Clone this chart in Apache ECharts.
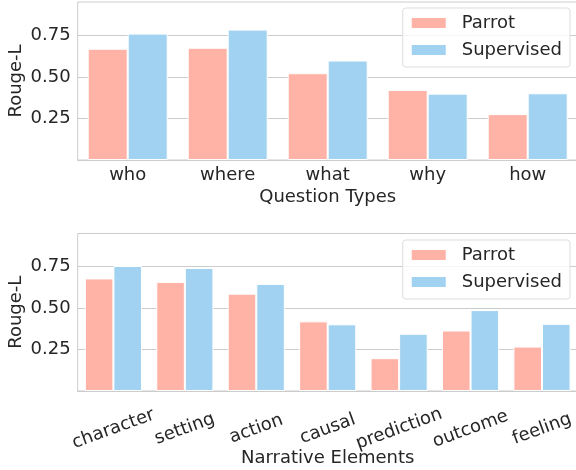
<!DOCTYPE html>
<html>
<head>
<meta charset="utf-8">
<script src="https://cdn.jsdelivr.net/npm/echarts@6/dist/echarts.min.js"></script>
<style>html,body{margin:0;padding:0;background:#fff}#c{width:576px;height:470px}</style>
</head>
<body>
<div id="c"></div>
<script>
const qCategories = ['who', 'where', 'what', 'why', 'how'];
const qParrot = [0.669, 0.675, 0.522, 0.421, 0.276];
const qSupervised = [0.760, 0.784, 0.598, 0.399, 0.401];

const nCategories = ['character', 'setting', 'action', 'causal', 'prediction', 'outcome', 'feeling'];
const nParrot = [0.679, 0.658, 0.587, 0.420, 0.198, 0.365, 0.268];
const nSupervised = [0.754, 0.742, 0.646, 0.402, 0.345, 0.488, 0.405];

const seriesNames = ['Parrot', 'Supervised'];
const yTickInterval = 0.25;

const FONT = 'DejaVu Sans';
const TXT = '#262626';
const PARROT = '#FFB3A7';
const SUPER = '#A1D2F1';
const SPINE = '#cccccc';

const chart = echarts.init(document.getElementById('c'), null, {renderer: 'canvas'});

function yAxis(idx) {
  return {
    type: 'value', gridIndex: idx, min: 0, max: 0.95, interval: yTickInterval,
    name: 'Rouge-L', nameLocation: 'middle', nameGap: 52, nameRotate: 90, nameMoveOverlap: false,
    nameTextStyle: {fontFamily: FONT, fontSize: 18, color: TXT},
    axisLine: {show: false}, axisTick: {show: false},
    axisLabel: {fontFamily: FONT, fontSize: 18, color: TXT, margin: 7, showMaxLabel: false,
      formatter: v => (v === 0 || v > 0.9 ? '' : v.toFixed(2))},
    splitLine: {show: true, showMaxLine: false, lineStyle: {color: SPINE, width: 1}}
  };
}
function legend(top) {
  return {
    data: seriesNames, orient: 'vertical', right: 6, top: top,
    itemWidth: 36, itemHeight: 12, itemGap: 9,
    icon: 'rect',
    padding: [6, 8, 8, 7],
    backgroundColor: 'rgba(255,255,255,0.8)', borderColor: '#dddddd', borderWidth: 1, borderRadius: 3,
    formatter: name => '{g|}' + name,
    textStyle: {fontFamily: FONT, fontSize: 18, color: TXT, lineHeight: 18,
      rich: {g: {width: 10, height: 18}}}
  };
}
const barStyle = c => ({color: c, borderColor: '#ffffff', borderWidth: 1});

chart.setOption({
  animation: false,
  textStyle: {fontFamily: FONT},
  grid: [
    {left: 77.7, top: 2, width: 500, height: 158, outerBoundsMode: 'none', containLabel: false, show: true, borderColor: SPINE, borderWidth: 1, backgroundColor: '#fff'},
    {left: 77.7, top: 233.5, width: 500, height: 157.5, outerBoundsMode: 'none', containLabel: false, show: true, borderColor: SPINE, borderWidth: 1, backgroundColor: '#fff'}
  ],
  legend: [legend(8), legend(240)],
  xAxis: [
    {type: 'category', gridIndex: 0, data: qCategories,
     name: 'Question Types', nameLocation: 'middle', nameGap: 28, nameMoveOverlap: false,
     nameTextStyle: {fontFamily: FONT, fontSize: 18, color: TXT},
     axisLine: {show: true, lineStyle: {color: SPINE, width: 1}}, axisTick: {show: false},
     axisLabel: {fontFamily: FONT, fontSize: 18, color: TXT, margin: 6}},
    {type: 'category', gridIndex: 1, data: nCategories,
     name: 'Narrative Elements', nameLocation: 'middle', nameGap: 58, nameMoveOverlap: false,
     nameTextStyle: {fontFamily: FONT, fontSize: 18, color: TXT},
     axisLine: {show: true, lineStyle: {color: SPINE, width: 1}}, axisTick: {show: false},
     axisLabel: {fontFamily: FONT, fontSize: 18, color: TXT, rotate: 20, align: 'center', verticalAlign: 'middle', margin: 38, interval: 0}}
  ],
  yAxis: [yAxis(0), yAxis(1)],
  series: [
    {name: seriesNames[0], type: 'bar', xAxisIndex: 0, yAxisIndex: 0, data: qParrot, itemStyle: barStyle(PARROT), barCategoryGap: '20%', barGap: '0%'},
    {name: seriesNames[1], type: 'bar', xAxisIndex: 0, yAxisIndex: 0, data: qSupervised, itemStyle: barStyle(SUPER), barCategoryGap: '20%', barGap: '0%'},
    {name: seriesNames[0], type: 'bar', xAxisIndex: 1, yAxisIndex: 1, data: nParrot, itemStyle: barStyle(PARROT), barCategoryGap: '20%', barGap: '0%'},
    {name: seriesNames[1], type: 'bar', xAxisIndex: 1, yAxisIndex: 1, data: nSupervised, itemStyle: barStyle(SUPER), barCategoryGap: '20%', barGap: '0%'}
  ]
});
</script>
</body>
</html>
